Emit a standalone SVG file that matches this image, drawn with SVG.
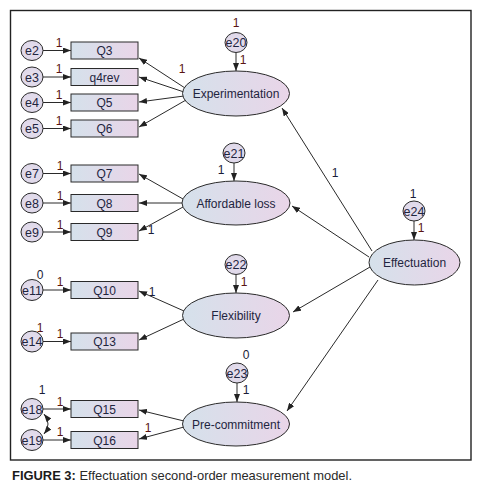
<svg xmlns="http://www.w3.org/2000/svg" width="485" height="494" viewBox="0 0 485 494">
<defs>
<linearGradient id="gb" x1="0" y1="0" x2="1" y2="0">
<stop offset="0" stop-color="#d5e1eb"/>
<stop offset="1" stop-color="#e9d5e8"/>
</linearGradient>
<radialGradient id="gc" cx="0.5" cy="0.5" r="0.6">
<stop offset="0" stop-color="#e6e0ee"/>
<stop offset="1" stop-color="#ddd6e8"/>
</radialGradient>
<marker id="ah" viewBox="0 0 8 6" refX="8" refY="3" markerWidth="8" markerHeight="6" markerUnits="userSpaceOnUse" orient="auto-start-reverse">
<path d="M0,0 L8,3 L0,6 z" fill="#222"/>
</marker>
<style>
.box{fill:url(#gb);stroke:#2a2a2a;stroke-width:1}
.lat{fill:url(#gb);stroke:#2a2a2a;stroke-width:1}
.err{fill:url(#gc);stroke:#2a2a2a;stroke-width:1}
.t{font-family:"Liberation Sans",Arial,sans-serif;font-size:12px;fill:#1f2540;text-anchor:middle}
.te{font-family:"Liberation Sans",Arial,sans-serif;font-size:12.5px;fill:#1f2540;text-anchor:middle}
.lr{font-family:"Liberation Sans",Arial,sans-serif;font-size:12px;fill:#5a1414;text-anchor:middle}
.lb{font-family:"Liberation Sans",Arial,sans-serif;font-size:12px;fill:#1a1c38;text-anchor:middle}
.c line,.c path{stroke:#2a2a2a;stroke-width:1;fill:none;marker-end:url(#ah)}
</style>
</defs>
<rect x="0" y="0" width="485" height="494" fill="#ffffff"/>
<rect x="10.5" y="10.5" width="460.5" height="449.5" fill="none" stroke="#222" stroke-width="1.4"/>

<g id="connectors" class="c">
<line x1="43" y1="50.5" x2="71" y2="50.5"/>
<line x1="43" y1="77" x2="71" y2="77"/>
<line x1="43" y1="102.5" x2="71" y2="102.5"/>
<line x1="43" y1="128.5" x2="71" y2="128.5"/>
<line x1="43" y1="173.5" x2="71" y2="173.5"/>
<line x1="43" y1="203" x2="71" y2="203"/>
<line x1="43" y1="232" x2="71" y2="232"/>
<line x1="43" y1="290" x2="71" y2="290"/>
<line x1="43" y1="341.5" x2="71" y2="341.5"/>
<line x1="43" y1="409" x2="71" y2="409"/>
<line x1="43" y1="440" x2="71" y2="440"/>
<line x1="185" y1="88" x2="139" y2="58"/>
<line x1="184" y1="92" x2="139" y2="77"/>
<line x1="184" y1="96" x2="139" y2="102"/>
<line x1="186" y1="100" x2="139" y2="127"/>
<line x1="183" y1="199" x2="139" y2="174"/>
<line x1="182" y1="203" x2="139" y2="203"/>
<line x1="183" y1="207" x2="139" y2="231"/>
<line x1="184" y1="311" x2="139" y2="291"/>
<line x1="184" y1="319" x2="139" y2="340"/>
<line x1="184" y1="421" x2="139" y2="410"/>
<line x1="184" y1="427" x2="139" y2="439"/>
<line x1="372" y1="251" x2="282" y2="108"/>
<line x1="369" y1="257" x2="292" y2="206"/>
<line x1="370" y1="267" x2="293" y2="312"/>
<line x1="378" y1="280" x2="287" y2="411"/>
<line x1="236" y1="53" x2="236" y2="71"/>
<line x1="234" y1="163" x2="234" y2="181"/>
<line x1="236" y1="275" x2="236" y2="293"/>
<line x1="237" y1="383" x2="237" y2="402"/>
<line x1="414" y1="221" x2="414" y2="240"/>
<path d="M44,414 Q52,424 44,434" marker-start="url(#ah)"/>
</g>

<g id="e2"><ellipse class="err" cx="32" cy="50.5" rx="11" ry="10"/><text class="te" x="32" y="55">e2</text></g>
<g id="e3"><ellipse class="err" cx="32" cy="77" rx="11" ry="10"/><text class="te" x="32" y="81.5">e3</text></g>
<g id="e4"><ellipse class="err" cx="32" cy="102.5" rx="11" ry="10"/><text class="te" x="32" y="107">e4</text></g>
<g id="e5"><ellipse class="err" cx="32" cy="128.5" rx="11" ry="10"/><text class="te" x="32" y="133">e5</text></g>
<g id="e7"><ellipse class="err" cx="32" cy="173.5" rx="11" ry="10"/><text class="te" x="32" y="178">e7</text></g>
<g id="e8"><ellipse class="err" cx="32" cy="203" rx="11" ry="10"/><text class="te" x="32" y="207.5">e8</text></g>
<g id="e9"><ellipse class="err" cx="32" cy="232" rx="11" ry="10"/><text class="te" x="32" y="236.5">e9</text></g>
<g id="e11"><ellipse class="err" cx="32" cy="290" rx="11" ry="10.5"/><text class="te" x="32" y="294.5">e11</text></g>
<g id="e14"><ellipse class="err" cx="32" cy="341.5" rx="11" ry="10.5"/><text class="te" x="32" y="346">e14</text></g>
<g id="e18"><ellipse class="err" cx="32" cy="409" rx="11" ry="10.5"/><text class="te" x="32" y="413.5">e18</text></g>
<g id="e19"><ellipse class="err" cx="32" cy="440" rx="11" ry="10.5"/><text class="te" x="32" y="444.5">e19</text></g>
<g id="e20"><ellipse class="err" cx="236" cy="42.5" rx="11" ry="10"/><text class="te" x="236" y="47">e20</text></g>
<g id="e21"><ellipse class="err" cx="234" cy="153" rx="11" ry="10"/><text class="te" x="234" y="157.5">e21</text></g>
<g id="e22"><ellipse class="err" cx="236" cy="264.5" rx="11" ry="10"/><text class="te" x="236" y="269">e22</text></g>
<g id="e23"><ellipse class="err" cx="237" cy="373" rx="11" ry="10"/><text class="te" x="237" y="377.5">e23</text></g>
<g id="e24"><ellipse class="err" cx="414" cy="211" rx="11" ry="10"/><text class="te" x="414" y="215.5">e24</text></g>

<g id="Q3"><rect class="box" x="71" y="42" width="67" height="17"/><text class="t" x="104.5" y="55">Q3</text></g>
<g id="q4rev"><rect class="box" x="71" y="68.5" width="67" height="17"/><text class="t" x="104.5" y="81.5">q4rev</text></g>
<g id="Q5"><rect class="box" x="71" y="94" width="67" height="17"/><text class="t" x="104.5" y="107">Q5</text></g>
<g id="Q6"><rect class="box" x="71" y="120" width="67" height="17"/><text class="t" x="104.5" y="133">Q6</text></g>
<g id="Q7"><rect class="box" x="71" y="165" width="67" height="17"/><text class="t" x="104.5" y="178">Q7</text></g>
<g id="Q8"><rect class="box" x="71" y="194.5" width="67" height="17"/><text class="t" x="104.5" y="207.5">Q8</text></g>
<g id="Q9"><rect class="box" x="71" y="223.5" width="67" height="17"/><text class="t" x="104.5" y="236.5">Q9</text></g>
<g id="Q10"><rect class="box" x="71" y="281.5" width="67" height="17"/><text class="t" x="104.5" y="294.5">Q10</text></g>
<g id="Q13"><rect class="box" x="71" y="333" width="67" height="17"/><text class="t" x="104.5" y="346">Q13</text></g>
<g id="Q15"><rect class="box" x="71" y="400.5" width="67" height="17"/><text class="t" x="104.5" y="413.5">Q15</text></g>
<g id="Q16"><rect class="box" x="71" y="431.5" width="67" height="17"/><text class="t" x="104.5" y="444.5">Q16</text></g>

<g id="Experimentation"><ellipse class="lat" cx="236" cy="93.5" rx="53.5" ry="22.5"/><text class="t" x="236" y="98">Experimentation</text></g>
<g id="AffordableLoss"><ellipse class="lat" cx="236" cy="203" rx="54" ry="22"/><text class="t" x="236" y="207.5">Affordable loss</text></g>
<g id="Flexibility"><ellipse class="lat" cx="236" cy="315.5" rx="53.5" ry="22.5"/><text class="t" x="236" y="320">Flexibility</text></g>
<g id="PreCommitment"><ellipse class="lat" cx="236" cy="424" rx="53.5" ry="22"/><text class="t" x="236" y="428.5">Pre-commitment</text></g>
<g id="Effectuation"><ellipse class="lat" cx="414.5" cy="262.5" rx="45.5" ry="22.5"/><text class="t" x="414.5" y="267">Effectuation</text></g>

<g id="labels">
<text class="lr" x="59" y="47">1</text>
<text class="lr" x="59" y="73">1</text>
<text class="lr" x="59" y="99">1</text>
<text class="lr" x="59" y="125">1</text>
<text class="lr" x="60" y="170">1</text>
<text class="lr" x="60" y="200">1</text>
<text class="lr" x="60" y="229">1</text>
<text class="lr" x="60" y="286">1</text>
<text class="lr" x="60" y="338">1</text>
<text class="lr" x="60" y="406">1</text>
<text class="lr" x="60" y="436">1</text>
<text class="lr" x="182" y="73">1</text>
<text class="lr" x="236" y="27">1</text>
<text class="lr" x="243" y="64">1</text>
<text class="lb" x="221" y="174">1</text>
<text class="lb" x="151" y="234">1</text>
<text class="lb" x="335" y="177">1</text>
<text class="lb" x="413" y="198">1</text>
<text class="lr" x="421" y="232">1</text>
<text class="lb" x="40" y="279">0</text>
<text class="lr" x="40" y="332">1</text>
<text class="lb" x="152" y="296">1</text>
<text class="lr" x="244" y="286">1</text>
<text class="lb" x="246" y="359">0</text>
<text class="lb" x="246" y="394">1</text>
<text class="lb" x="42" y="394">1</text>
<text class="lr" x="148" y="432">1</text>
</g>

<text x="12" y="480" font-family="Liberation Sans, Arial, sans-serif" font-size="13" fill="#2a2a2a" textLength="340" lengthAdjust="spacingAndGlyphs"><tspan font-weight="bold" fill="#1a1a1a">FIGURE 3:</tspan> Effectuation second-order measurement model.</text>
</svg>
